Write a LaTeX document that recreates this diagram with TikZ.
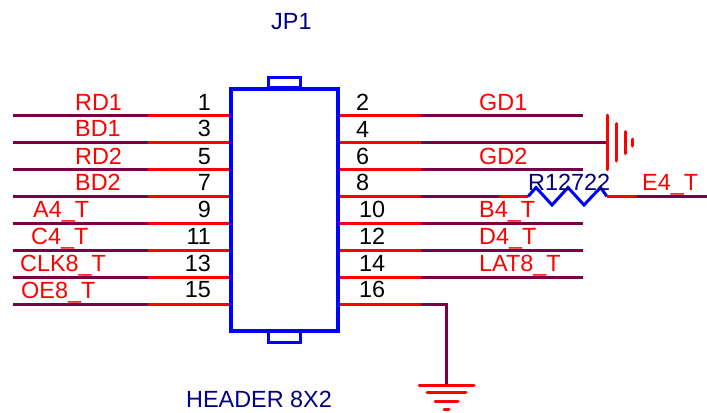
\documentclass[tikz,border=0pt]{standalone}
\usepackage{fontspec}
\setmainfont{Liberation Sans}
\definecolor{netdark}{HTML}{7A0045}
\definecolor{pinred}{HTML}{FF0000}
\definecolor{boxblue}{HTML}{0000FF}
\definecolor{refnavy}{HTML}{000080}
\tikzset{
  x=1bp,y=-1bp,
  lab/.style={inner sep=0pt,font=\fontsize{23.4bp}{26bp}\selectfont},
  netlab/.style={lab,text=pinred,anchor=base west},
  pinl/.style={lab,text=black,anchor=base east},
  pinr/.style={lab,text=black,anchor=base west},
  reflab/.style={lab,text=refnavy,anchor=base west},
  pinwire/.style={draw=pinred,line width=3bp},
  netwire/.style={draw=netdark,line width=3bp},
  gndbar/.style={draw=pinred,line width=3bp,line cap=round},
  body/.style={draw=boxblue,line width=4bp,minimum width=107bp,minimum height=242bp,inner sep=0pt},
  tab/.style={draw=boxblue,line width=3bp},
  zig/.style={draw=boxblue,line width=3bp,line join=miter}
}
\begin{document}
\begin{tikzpicture}
\useasboundingbox[fill=white] (0,0) rectangle (707,412);
% left pins
\foreach \n/\y in {a/115.5,b/142.5,c/169.5,d/196.5,e/223.5,f/250.5,g/277.5,h/304.5}{
  \coordinate (L\n o) at (13,\y);
  \coordinate (L\n m) at (148,\y);
  \coordinate (L\n i) at (231,\y);
  \draw[netwire] (L\n o) -- (L\n m);
  \draw[pinwire] (L\n m) -- (L\n i);
}
% right pins
\foreach \n/\y in {a/115.5,b/142.5,c/169.5,d/196.5,e/223.5,f/250.5,g/277.5,h/304.5}{
  \coordinate (R\n i) at (338,\y);
  \coordinate (R\n m) at (421,\y);
  \draw[pinwire] (R\n i) -- (R\n m);
}
\foreach \n/\y in {a/115.5,c/169.5,e/223.5,f/250.5,g/277.5}{
  \coordinate (R\n o) at (583,\y);
  \draw[netwire] (R\n m) -- (R\n o);
}
% ground on pin 4
\coordinate (Gr) at (607,142.5);
\draw[netwire] (Rbm) -- (Gr);
\draw[gndbar] (607.5,115) -- (607.5,169.5);
\draw[gndbar] (616.5,123.5) -- (616.5,161);
\draw[gndbar] (625.5,131.5) -- (625.5,153.5);
\draw[gndbar] (632.5,139) -- (632.5,146);
% pin 8 with resistor
\coordinate (Rs) at (499,196.5);
\coordinate (Za) at (528,196.5);
\coordinate (Zb) at (607,196.5);
\coordinate (Ee) at (637,196.5);
\coordinate (Ef) at (707,196.5);
\draw[netwire] (Rdm) -- (Rs);
\draw[pinwire] (Rs) -- (Za);
\draw[zig] (Za) -- (536,187.5) -- (552,205) -- (568,187.5) -- (584,205) -- (600.5,187.5) -- (Zb);
\draw[pinwire] (Zb) -- (Ee);
\draw[netwire] (Ee) -- (Ef);
% pin 16 to ground
\coordinate (Gt) at (446.5,385);
\draw[netwire,line join=miter] (Rhm) -| (Gt);
\draw[gndbar] (419,385.5) -- (474,385.5);
\draw[gndbar] (427,392.5) -- (466,392.5);
\draw[gndbar] (435,401.5) -- (458,401.5);
\draw[gndbar] (444,409.5) -- (449,409.5);
% body
\node[body] (hdr) at (284.5,210) {};
\draw[tab] (268.5,87) |- (300.5,77.5) -- (300.5,87) -- cycle;
\draw[tab] (268.5,331) |- (300.5,342.5) -- (300.5,331);
% labels
\node[reflab] (jp) at (271,29) {JP1};
\node[reflab] (hd) at (186,407.5) {HEADER 8X2};
\node[netlab] at (75,110) {RD1};
\node[netlab] at (75,136.5) {BD1};
\node[netlab] at (75,164) {RD2};
\node[netlab] at (75,190.5) {BD2};
\node[netlab] at (33,217) {A4\_T};
\node[netlab] at (31,244) {C4\_T};
\node[netlab] at (20,271) {CLK8\_T};
\node[netlab] at (21,298) {OE8\_T};
\node[netlab] at (479,110) {GD1};
\node[netlab] at (479,164) {GD2};
\node[netlab] at (479,217) {B4\_T};
\node[netlab] at (479,244) {D4\_T};
\node[netlab] at (479,271) {LAT8\_T};
\node[netlab] at (642,190) {E4\_T};
\node[reflab] at (528,190.5) {R12722};
\foreach \t/\y in {1/110,3/136.5,5/164,7/190.5,9/217,11/244,13/271,15/297.5}{
  \node[pinl] at (211,\y) {\t};
}
\foreach \t/\y/\x in {2/110/356,4/137/356,6/164/356,8/190.5/356,10/217/359,12/244/359,14/271/359,16/297/359}{
  \node[pinr] at (\x,\y) {\t};
}
\end{tikzpicture}
\end{document}
